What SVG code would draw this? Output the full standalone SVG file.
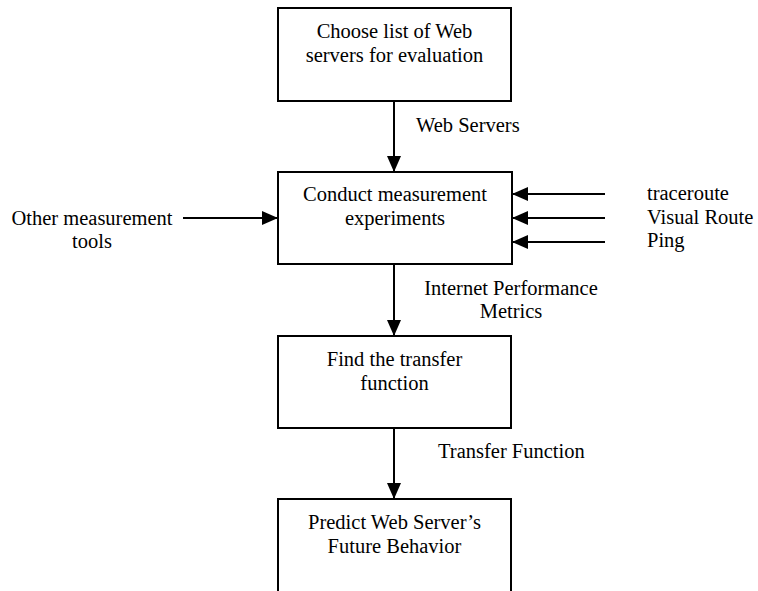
<svg xmlns="http://www.w3.org/2000/svg" width="758" height="591" viewBox="0 0 758 591">
  <style>
    text { font-family: "Liberation Serif", "Times New Roman", serif; font-size: 20.5px; fill: #000; }
    .c { text-anchor: middle; }
    .box { fill: #fff; stroke: #000; stroke-width: 2; }
    .wire { fill: none; stroke: #000; stroke-width: 2; marker-end: url(#head); }
  </style>
  <defs>
    <marker id="head" markerUnits="userSpaceOnUse" markerWidth="16" markerHeight="16" viewBox="0 0 16 16" refX="16" refY="8" orient="auto">
      <path d="M0,1 L16,8 L0,15 Z" fill="#000"/>
    </marker>
  </defs>
  <rect width="758" height="591" fill="#fff"/>

  <g id="connectors">
    <path class="wire" d="M394,101 V172"/>
    <path class="wire" d="M394,264 V336"/>
    <path class="wire" d="M394,428 V499"/>
    <path class="wire" d="M183,218 H278"/>
    <path class="wire" d="M605,194 H512"/>
    <path class="wire" d="M605,218 H512"/>
    <path class="wire" d="M605,242 H512"/>
    <text x="416" y="132">Web Servers</text>
    <text class="c" x="511" y="295">Internet Performance</text>
    <text class="c" x="511" y="318">Metrics</text>
    <text x="438" y="458">Transfer Function</text>
  </g>

  <g id="choose-servers">
    <rect class="box" x="278" y="8" width="233" height="93"/>
    <text class="c" x="394.5" y="38">Choose list of Web</text>
    <text class="c" x="394.5" y="62">servers for evaluation</text>
  </g>

  <g id="conduct-experiments">
    <rect class="box" x="278" y="172" width="234" height="92"/>
    <text class="c" x="395" y="201">Conduct measurement</text>
    <text class="c" x="395" y="225">experiments</text>
  </g>

  <g id="other-tools">
    <text class="c" x="92" y="225">Other measurement</text>
    <text class="c" x="92" y="248">tools</text>
  </g>

  <g id="tools">
    <text x="647" y="200">traceroute</text>
    <text x="647" y="224">Visual Route</text>
    <text x="647" y="247">Ping</text>
  </g>

  <g id="find-transfer">
    <rect class="box" x="278" y="336" width="233" height="92"/>
    <text class="c" x="394.5" y="366">Find the transfer</text>
    <text class="c" x="394.5" y="390">function</text>
  </g>

  <g id="predict-behavior">
    <rect class="box" x="278" y="499" width="233" height="110"/>
    <text class="c" x="394.5" y="529">Predict Web Server’s</text>
    <text class="c" x="394.5" y="553">Future Behavior</text>
  </g>
</svg>
